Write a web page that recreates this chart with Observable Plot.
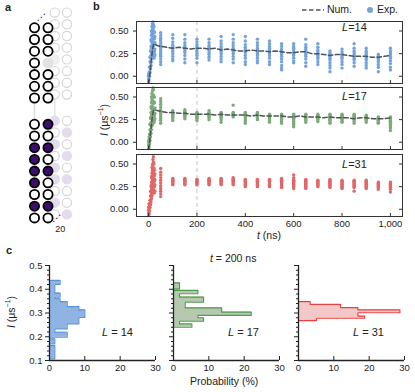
<!DOCTYPE html>
<html><head><meta charset="utf-8">
<script src="https://cdn.jsdelivr.net/npm/d3@7"></script>
<script src="https://cdn.jsdelivr.net/npm/@observablehq/plot@0.6"></script>
<style>
body{margin:0;background:#fff;}
#fig{position:relative;width:415px;height:392px;overflow:hidden;font-family:"Liberation Sans",Arial,sans-serif;color:#222;}
.lab{position:absolute;font-size:10.5px;white-space:nowrap;line-height:1;}
.pl{position:absolute;font-weight:bold;font-size:11px;line-height:1;}
.rot{position:absolute;font-size:10.5px;white-space:nowrap;line-height:1;transform:translate(-50%,-50%) rotate(-90deg);}
sup{font-size:7px;vertical-align:5px;}
</style></head><body><div id="fig"></div>
<script>
// ---------- panel a : ladder schematic ----------
const frontRows = [0,1,2,3,4,5,6,8.25,9.25,10.25,11.25,12.25,13.25,14.25,15.25,16.25];
const frontCol0 = ["o","o","o","o","o","o","o","o","o","f","f","f","f","o","f","o"];
const frontCol1 = ["o","o","o","g","o","o","o","f","o","f","o","f","o","o","f","o"];
const backRows = [-1.3,-0.3,0.7,1.7,2.7,3.7,4.7,5.7,7.95,8.95,9.95,10.95,11.95,12.95,13.95,14.95,15.95];
const backCol0 = ["o","o","o","o","g","o","o","o","f","o","f","o","f","f","o","f","o"];
const backCol1 = ["o","o","o","o","o","o","o","o","o","f","o","f","o","f","o","o","f"];

// ---------- panel b : I(t) ----------
const colTimes = [50,100,150,200,250,300,350,400,450,500,550,600,650,700,750,800,850,900,950,1000];
const early14 = [[0,[-0.06,-0.03,0.0,0.02]],[2,[-0.04,0.0,0.04]],[4,[0.0,0.05,0.1]],[6,[0.04,0.1,0.16,0.21]],[8,[0.08,0.15,0.22,0.28]],[10,[0.12,0.2,0.27,0.33,0.4]],[12,[0.16,0.24,0.31,0.38,0.45,0.5]],[14,[0.2,0.27,0.34,0.41,0.48,0.55]],[16,[0.22,0.3,0.37,0.44,0.52,0.58]],[18,[0.24,0.31,0.38,0.45,0.53,0.6]],[20,[0.22,0.29,0.36,0.43,0.5,0.57]],[22,[0.2,0.27,0.34,0.41,0.48,0.55]],[24,[0.22,0.28,0.35,0.42,0.49]],[26,[0.24,0.3,0.37,0.44]]];
const exp14 = [
 [0.48,0.45,0.42,0.40,0.38,0.36,0.34,0.32,0.30,0.28,0.26,0.24,0.22,0.19,0.16,0.13],
 [0.46,0.42,0.38,0.35,0.33,0.31,0.29,0.27,0.25,0.22,0.19,0.17],
 [0.46,0.41,0.37,0.34,0.32,0.30,0.28,0.26,0.23,0.19,0.15],
 [0.41,0.38,0.35,0.33,0.31,0.29,0.27,0.25,0.23,0.20,0.15],
 [0.41,0.37,0.34,0.32,0.30,0.28,0.26,0.24,0.21,0.18],
 [0.44,0.39,0.36,0.33,0.31,0.29,0.27,0.25,0.22,0.19,0.16],
 [0.46,0.41,0.37,0.34,0.31,0.29,0.27,0.25,0.22,0.19,0.15],
 [0.44,0.39,0.35,0.32,0.30,0.28,0.26,0.23,0.20,0.16,0.13],
 [0.41,0.37,0.34,0.31,0.29,0.27,0.25,0.23,0.20,0.17,0.15],
 [0.39,0.36,0.33,0.31,0.29,0.27,0.25,0.23,0.20,0.16,0.13],
 [0.36,0.33,0.30,0.28,0.26,0.24,0.22,0.19,0.16,0.12,0.09,0.07],
 [0.36,0.33,0.31,0.29,0.27,0.25,0.23,0.20,0.17,0.15],
 [0.41,0.35,0.32,0.30,0.28,0.26,0.24,0.22,0.19,0.15,0.11],
 [0.36,0.32,0.29,0.27,0.25,0.23,0.21,0.19,0.16,0.13],
 [0.28,0.26,0.24,0.22,0.20,0.18,0.15,0.12,0.09,0.05],
 [0.30,0.27,0.25,0.23,0.21,0.19,0.16,0.13,0.09],
 [0.36,0.31,0.28,0.26,0.24,0.22,0.20,0.18,0.15,0.11],
 [0.31,0.28,0.26,0.24,0.22,0.20,0.18,0.15,0.12,0.09],
 [0.24,0.22,0.20,0.18,0.16,0.13,0.10,0.05],
 [0.31,0.28,0.26,0.24,0.22,0.20,0.17,0.14,0.10,0.07]];
const num14 = [[0,-0.08],[4,0.0],[8,0.1],[12,0.2],[16,0.29],[20,0.35],[25,0.36],[35,0.34],[50,0.33],[75,0.32],[100,0.31],[125,0.32],[150,0.31],[175,0.30],[200,0.31],[225,0.31],[250,0.30],[275,0.31],[300,0.29],[325,0.30],[350,0.29],[375,0.28],[400,0.28],[425,0.29],[450,0.28],[475,0.28],[500,0.27],[525,0.28],[550,0.27],[575,0.26],[600,0.26],[625,0.27],[650,0.27],[675,0.25],[700,0.25],[725,0.24],[750,0.23],[775,0.24],[800,0.24],[825,0.23],[850,0.22],[875,0.22],[900,0.22],[925,0.21],[950,0.21],[975,0.22],[1000,0.23]];

const early17 = [[0,[-0.07,-0.03,0.01]],[2,[-0.05,-0.01,0.03,0.06]],[4,[-0.02,0.04,0.09]],[6,[0.02,0.08,0.14,0.2]],[8,[0.06,0.13,0.2,0.27]],[10,[0.1,0.18,0.26,0.33,0.39]],[12,[0.14,0.22,0.3,0.37,0.44,0.5]],[14,[0.18,0.26,0.33,0.4,0.47,0.54]],[16,[0.2,0.28,0.36,0.43,0.5,0.57]],[18,[0.23,0.3,0.37,0.45,0.52,0.6]],[20,[0.24,0.31,0.38,0.45,0.52,0.58]],[22,[0.22,0.29,0.36,0.43,0.5]],[24,[0.24,0.3,0.37,0.44,0.5]],[26,[0.26,0.32,0.38]]];
const exp17 = [
 [0.48,0.45,0.42,0.39,0.36,0.34,0.32,0.30,0.28,0.26,0.24,0.21],
 [0.35,0.33,0.32,0.31,0.30,0.29,0.28,0.26,0.24],
 [0.36,0.34,0.33,0.32,0.31,0.30,0.29,0.28,0.26],
 [0.33,0.32,0.31,0.30,0.29,0.28,0.27,0.26,0.24],
 [0.35,0.33,0.32,0.31,0.30,0.29,0.28,0.27,0.25],
 [0.33,0.32,0.31,0.30,0.29,0.28,0.27,0.25,0.22],
 [0.41,0.33,0.32,0.31,0.30,0.29,0.28],
 [0.33,0.32,0.31,0.30,0.29,0.27,0.25,0.23,0.21],
 [0.33,0.32,0.31,0.30,0.29,0.28,0.27,0.25],
 [0.31,0.30,0.29,0.28,0.27,0.26,0.25,0.24,0.22],
 [0.31,0.30,0.29,0.28,0.27,0.26,0.25,0.23,0.21],
 [0.31,0.30,0.29,0.28,0.27,0.26,0.25,0.23,0.21,0.19,0.17],
 [0.31,0.30,0.29,0.28,0.27,0.26,0.25,0.24,0.22],
 [0.31,0.30,0.29,0.28,0.27,0.26,0.25,0.23],
 [0.31,0.30,0.29,0.28,0.27,0.26,0.25,0.24,0.22,0.21],
 [0.31,0.30,0.29,0.28,0.27,0.26,0.25,0.23,0.22],
 [0.31,0.30,0.29,0.28,0.27,0.26,0.25,0.23,0.21],
 [0.30,0.29,0.28,0.27,0.26,0.25,0.24,0.22],
 [0.28,0.27,0.26,0.25,0.24,0.23,0.22,0.21],
 [0.28,0.27,0.26,0.25,0.24,0.23,0.22,0.20,0.18,0.16,0.13]];
const num17 = [[0,-0.08],[4,0.0],[8,0.1],[12,0.2],[16,0.3],[20,0.35],[25,0.36],[35,0.35],[50,0.34],[75,0.33],[100,0.33],[125,0.32],[150,0.32],[175,0.31],[200,0.31],[225,0.31],[250,0.31],[275,0.30],[300,0.31],[325,0.30],[350,0.30],[375,0.30],[400,0.30],[425,0.29],[450,0.30],[475,0.29],[500,0.29],[525,0.29],[550,0.29],[575,0.28],[600,0.28],[625,0.29],[650,0.28],[675,0.28],[700,0.28],[725,0.27],[750,0.28],[775,0.27],[800,0.27],[825,0.27],[850,0.26],[875,0.27],[900,0.27],[925,0.26],[950,0.26],[975,0.26],[1000,0.27]];

const early31 = [[0,[-0.07,-0.04,-0.01,0.02]],[2,[-0.05,-0.01,0.03,0.06]],[4,[-0.02,0.02,0.06]],[6,[0.02,0.06,0.1]],[8,[0.05,0.1,0.15,0.2]],[10,[0.08,0.14,0.2,0.26]],[12,[0.12,0.18,0.24,0.3,0.36]],[14,[0.15,0.22,0.28,0.34,0.4,0.46]],[16,[0.18,0.25,0.31,0.37,0.43,0.49]],[18,[0.2,0.26,0.32,0.38,0.44,0.5,0.55]],[20,[0.22,0.28,0.34,0.4,0.46,0.52,0.58]],[22,[0.2,0.27,0.33,0.39,0.45,0.5]],[24,[0.18,0.25,0.31,0.37,0.43]],[26,[0.2,0.27,0.33,0.39]]];
const exp31 = [
 [0.45,0.41,0.38,0.35,0.32,0.29,0.26,0.23,0.20,0.17,0.14],
 [0.34,0.33,0.32,0.31,0.30,0.29,0.28,0.27],
 [0.34,0.33,0.32,0.31,0.30,0.29,0.28,0.27],
 [0.33,0.32,0.31,0.30,0.29,0.28,0.27],
 [0.34,0.33,0.32,0.31,0.30,0.29,0.28,0.27],
 [0.34,0.33,0.32,0.31,0.30,0.29,0.28,0.27],
 [0.35,0.34,0.33,0.32,0.31,0.30,0.29,0.28,0.27],
 [0.33,0.32,0.31,0.30,0.29,0.28,0.27,0.26,0.25],
 [0.33,0.32,0.31,0.30,0.29,0.28,0.27,0.26,0.25],
 [0.33,0.32,0.31,0.30,0.29,0.28,0.27,0.26,0.25],
 [0.34,0.33,0.32,0.31,0.30,0.29,0.28,0.27,0.26,0.25,0.24],
 [0.38,0.35,0.33,0.32,0.31,0.30,0.29,0.28,0.27,0.26,0.25,0.23],
 [0.33,0.32,0.31,0.30,0.29,0.28,0.27,0.26,0.25,0.24,0.23],
 [0.32,0.31,0.30,0.29,0.28,0.27,0.26,0.25],
 [0.33,0.32,0.31,0.30,0.29,0.28,0.27,0.26,0.25,0.24],
 [0.32,0.31,0.30,0.29,0.28,0.27,0.26,0.25,0.24,0.23],
 [0.32,0.31,0.30,0.29,0.28,0.27,0.26,0.25,0.24,0.20],
 [0.32,0.31,0.30,0.29,0.28,0.27,0.26,0.25,0.24,0.23],
 [0.30,0.29,0.28,0.27,0.26,0.25,0.24,0.22],
 [0.30,0.29,0.28,0.27,0.26,0.25,0.24,0.22,0.19]];

const yTicksB = [0, 0.25, 0.5];
const xTicksB = [0, 200, 400, 600, 800, 1000];

// ---------- panel c : histograms at t = 200 ns ----------
const h14Edges = [0.107,0.135,0.163,0.170,0.191,0.198,0.219,0.233,0.254,0.275,0.282,0.313,0.327,0.348,0.360,0.367,0.384,0.420,0.437];
const h14Pct   = [1.5,1.5,0,1.5,0,5,1.5,5,8.3,8.3,10,8.3,5,3,1.5,3,1.5,3];
const h17Edges = [0.240,0.254,0.266,0.280,0.290,0.304,0.322,0.346,0.367,0.381,0.395,0.402,0.427];
const h17Pct   = [5.2,1.7,8.5,6.9,22,13.6,3.3,8.5,1.7,6.9,0,1.7];
const h31Edges = [0.268,0.278,0.287,0.301,0.313,0.323,0.336,0.348];
const h31Pct   = [5.1,18.7,16.8,28.7,16.8,11.9,3.3];
const yMajorC = [0.1,0.2,0.3,0.4,0.5];
const yMinorC = [0.12,0.14,0.16,0.18,0.22,0.24,0.26,0.28,0.32,0.34,0.36,0.38,0.42,0.44,0.46,0.48];
const xTicksC = [0,10,20,30];

const fig = document.getElementById("fig");
const FONT = "'Liberation Sans', Arial, sans-serif";
function place(el, left, top){ el.style.position="absolute"; el.style.left=left+"px"; el.style.top=top+"px"; fig.appendChild(el); }
function html(cls, h, left, top, extra=""){ const d=document.createElement("div"); d.className=cls; d.innerHTML=h; d.style.left=left+"px"; d.style.top=top+"px"; if(extra) d.style.cssText += extra; fig.appendChild(d); return d; }

// panel a
function ladderPts(rows, states, col){ return rows.map((r,i)=>({r, c: col, s: states[i]})); }
const front = [...ladderPts(frontRows, frontCol0, 0), ...ladderPts(frontRows, frontCol1, 1)];
const back = [...ladderPts(backRows, backCol0, 1.5), ...ladderPts(backRows, backCol1, 2.4)];
const purple = "#3d0c6e";
const aSvg = Plot.plot({
  width: 80, height: 240, margin: 0,
  style: {background: "none", overflow: "visible", fontFamily: FONT},
  x: {domain: [0, 1], range: [34, 47.5], axis: null},
  y: {domain: [0, 16.25], range: [27.3, 217.4], axis: null},
  marks: [
    Plot.ruleX([1.5], {y1: 5.7, y2: 7.95, stroke: "#e6e6e6", strokeWidth: 1.5}),
    Plot.dot(back, {x: "c", y: "r", r: 4.6, strokeWidth: 1.2,
      stroke: d => d.s === "f" ? "#e3dbee" : d.s === "g" ? "#efefef" : "#d6d6d6",
      fill: d => d.s === "f" ? "#e3dbee" : d.s === "g" ? "#efefef" : "#fff"}),
    Plot.ruleX([0], {y1: 6, y2: 8.25, stroke: "#dcdcdc", strokeWidth: 1.5}),
    Plot.dot(front, {x: "c", y: "r", r: 4.6, strokeWidth: 1.8,
      stroke: d => d.s === "g" ? "#e2e2e2" : "#000",
      fill: d => d.s === "f" ? purple : d.s === "g" ? "#e2e2e2" : "#fff"}),
    Plot.text(["⋰"], {x: [0.5], y: [-0.9], fontSize: 9, fill: "#000", fontFamily: "DejaVu Sans"}),
    Plot.text(["⋰"], {x: [1.65], y: [16.25], fontSize: 9, fill: "#000", fontFamily: "DejaVu Sans"}),
    Plot.text(["20"], {x: [1.9], y: [17.2], fontSize: 9, fill: "#222", fontFamily: FONT})
  ]
});
place(aSvg, 0, 0);

// panel b
const FW = 266, FH = 62;
function panelB(early, cols, num, color, top, last){
  const pts = [];
  early.forEach(([t, vs]) => vs.forEach(v => pts.push({t, v})));
  colTimes.forEach((t, i) => cols[i].forEach(v => pts.push({t, v})));
  const ml = 40, mr = 6, mb = last ? 18 : 0;
  const marks = [
    Plot.ruleX([200], {stroke: "#cfcfcf", strokeDasharray: "4,3", strokeWidth: 1.2}),
    Plot.dot(pts, {x: "t", y: "v", r: 1.7, fill: color, stroke: "none"}),
    num ? Plot.line(num, {x: d => d[0], y: d => d[1], stroke: "#4a5557", strokeWidth: 1.5, strokeDasharray: "4.5,2.5"}) : null,
    Plot.frame({stroke: "#333", strokeWidth: 1}),
    Plot.axisY(yTicksB, {anchor: "left", tickSize: 3, tickPadding: 5, tickFormat: d3.format(".2f"), label: null, fontSize: 9.5}),
    Plot.tickY(yTicksB, {y: d => d, insetLeft: FW - 3, stroke: "#333"}),
    Plot.tickX(xTicksB, {x: d => d, insetTop: FH - 3, stroke: "#333"})
  ];
  if (last) marks.push(Plot.axisX(xTicksB, {anchor: "bottom", tickSize: 0, tickPadding: 4, label: null, fontSize: 9.5}));
  const svg = Plot.plot({
    width: ml + FW + mr, height: FH + mb, marginLeft: ml, marginRight: mr, marginTop: 0, marginBottom: mb,
    style: {background: "none", overflow: "visible", fontFamily: FONT, color: "#222"},
    x: {domain: [-50, 1050], axis: null},
    y: {domain: [-0.08, 0.605], axis: null},
    marks
  });
  place(svg, 136 - ml, top);
}
const blue = "#74a3dc", green = "#7fa97a", red = "#e26767";
panelB(early14, exp14, num14, blue, 21, false);
panelB(early17, exp17, num17, green, 87, false);
panelB(early31, exp31, null, red, 154, true);

// panel c
const CW = 106, CH = 95;
function panelC(edges, pct, fill, stroke, x0, showY){
  const pts = [{y: edges[0], x: 0}];
  pct.forEach((p, i) => { pts.push({y: edges[i], x: p}); pts.push({y: edges[i+1], x: p}); });
  pts.push({y: edges[edges.length - 1], x: 0});
  const ml = showY ? 49 : 10, mt = 10, mb = 18, mr = 10;
  const svg = Plot.plot({
    width: ml + CW + mr, height: mt + CH + mb, marginLeft: ml, marginRight: mr, marginTop: mt, marginBottom: mb,
    style: {background: "none", overflow: "visible", fontFamily: FONT, color: "#222"},
    x: {domain: [0, 30], axis: null},
    y: {domain: [0.1, 0.5], axis: null},
    marks: [
      Plot.areaX(pts, {x1: () => 0, x2: "x", y: "y", fill, curve: "linear"}),
      Plot.lineX(pts, {x: "x", y: "y", stroke, strokeWidth: 1.2, curve: "linear"}),
      Plot.ruleX([0], {y1: yMajorC[0], y2: yMajorC[yMajorC.length - 1], stroke: "#222", strokeWidth: 1.3}),
      Plot.ruleY([0.1], {x1: xTicksC[0], x2: xTicksC[xTicksC.length - 1], stroke: "#222", strokeWidth: 1.3}),
      Plot.axisY(yMajorC, {anchor: "left", tickSize: 4, tickPadding: 3, label: null, fontSize: 9.5,
        tickFormat: showY ? d3.format(".1f") : () => ""}),
      Plot.axisY(yMinorC, {anchor: "left", tickSize: 2, tickPadding: 0, label: null, tickFormat: () => ""}),
      Plot.tickX(xTicksC, {x: d => d, insetTop: CH - 4, stroke: "#222"}),
      Plot.axisX(xTicksC, {anchor: "bottom", tickSize: 0, tickPadding: 4, label: null, fontSize: 9.5})
    ]
  });
  place(svg, x0 - ml, 265 - mt);
}
panelC(h14Edges, h14Pct, "#8fb4e4", "#5b92d6", 49, true);
panelC(h17Edges, h17Pct, "#b6c9b0", "#4f9c4c", 173.3, false);
panelC(h31Edges, h31Pct, "#f5c8c8", "#e8403f", 298.3, false);

// text
html("pl", "a", 5, 2);
html("pl", "b", 93, 1);
html("pl", "c", 6, 245);
html("lab", '<svg width="22" height="6" style="vertical-align:middle"><line x1="0" y1="3" x2="22" y2="3" stroke="#4a5557" stroke-width="1.5" stroke-dasharray="4.5,2.5"/></svg> Num.', 302, 4);
html("lab", '<svg width="8" height="8" style="vertical-align:middle"><circle cx="4" cy="4" r="3" fill="' + blue + '"/></svg> Exp.', 366, 4);
html("lab", "<i>L</i>=14", 342, 22, "font-size:11px;");
html("lab", "<i>L</i>=17", 342, 91, "font-size:11px;");
html("lab", "<i>L</i>=31", 342, 159, "font-size:11px;");
html("lab", "<i>t</i> (ns)", 257, 230);
html("rot", "<i>I</i> (μs<sup>−1</sup>)", 103, 120);
html("lab", "<i>t</i> = 200 ns", 210, 253);
html("rot", "<i>I</i> (μs<sup>−1</sup>)", 10, 312);
html("lab", "<i>L</i> = 14", 102, 327, "font-size:11px;");
html("lab", "<i>L</i> = 17", 228, 327, "font-size:11px;");
html("lab", "<i>L</i> = 31", 353, 327, "font-size:11px;");
html("lab", "Probability (%)", 190, 376);
</script></body></html>
